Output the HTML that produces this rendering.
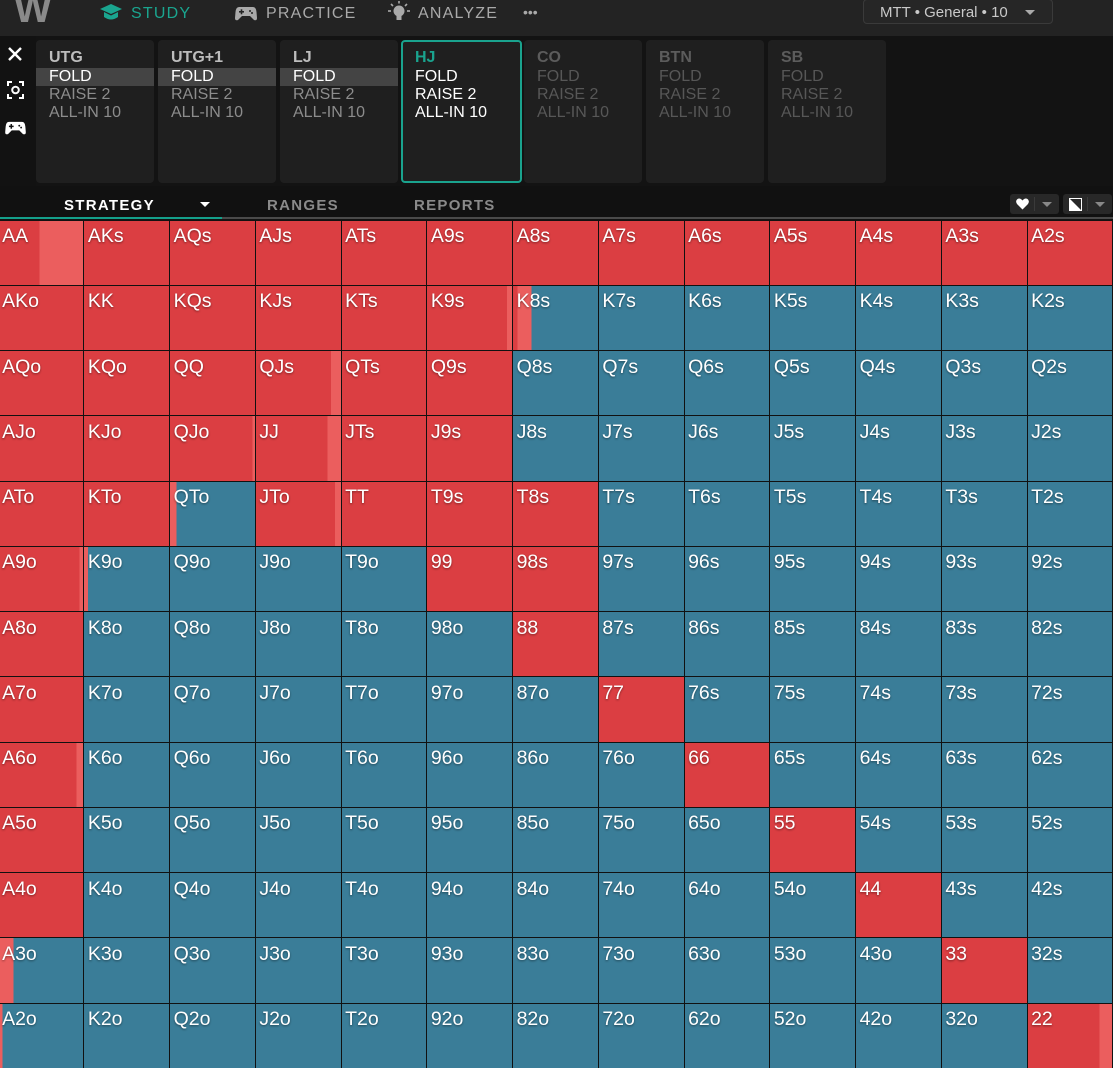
<!DOCTYPE html>
<html><head><meta charset="utf-8"><style>
*{margin:0;padding:0;box-sizing:border-box}
html,body{width:1113px;height:1063px;overflow:hidden;background:#131313;font-family:"Liberation Sans",Arial,sans-serif}
.hdr{position:absolute;left:0;top:0;width:1113px;height:36px;background:#232323}
.logo{position:absolute;left:14px;top:-13px;font-size:40px;font-weight:bold;color:#8a8a8a;letter-spacing:-4px}
.nav{position:absolute;top:5px;font-size:16px;letter-spacing:1.2px;color:#a9a9a9;line-height:18px}
.dd{position:absolute;left:863px;top:-1px;width:190px;height:25px;border:1px solid #3a3a3a;border-radius:4px;background:#262626;color:#c9c9c9;font-size:15px;line-height:25px;padding-left:16px}
.side{position:absolute;left:0;top:36px;width:36px;height:150px;background:#121212}
.card{position:absolute;top:40px;width:118px;height:143px;background:#1f1f1f;border-radius:4px;padding-top:9px;font-size:16px;line-height:18px}
.card div{padding-left:13px;height:18px;white-space:nowrap}
.card .t{font-weight:bold;color:#bdbdbd;margin-bottom:1px}
.card .f{background:#444;color:#fff}
.card .o{color:#8c8c8c}
.card.hj{border:2px solid #1aa38e;padding-top:7px}
.card.hj div{padding-left:12px;color:#fff}
.card.hj .t{color:#1aa38e}
.card.dim div{color:#575757}
.card.dim .t{color:#5c5c5c}
.tabs{position:absolute;left:0;top:186px;width:1113px;height:31px;background:#111}
.tab{position:absolute;top:12px;font-size:15px;font-weight:bold;letter-spacing:1.3px;color:#8a8a8a;line-height:16px}
.ul1{position:absolute;left:0;top:217px;width:222px;height:2px;background:#14a08b}
.ul2{position:absolute;left:222px;top:217px;width:891px;height:2px;background:#4a4a4a}
.btn{position:absolute;top:194px;height:20px;width:49px;background:#282828;border-radius:3px}
.grid{position:absolute;left:-2.45px;top:219.5px;display:grid;grid-template-columns:repeat(13,85.75px);grid-template-rows:repeat(13,65.25px);background:#111}
.grid div{border-left:1px solid #111;border-top:1px solid #111;color:#fff;font-size:19.5px;line-height:19.5px;padding:6.5px 0 0 3.5px;text-shadow:0 1px 2px rgba(0,0,0,.45);background:#3a7d98;overflow:hidden;white-space:nowrap}
.grid div.r{background:#db3e42}
</style></head><body>
<div class="hdr">
  <div class="logo">W</div>
  <svg style="position:absolute;left:99px;top:3px" width="24" height="19" viewBox="0 0 24 19"><polygon points="12,1 23,6 12,11 1,6" fill="#1aa58f"/><path d="M5 9 L5 14 Q12 19 19 14 L19 9 L12 12.5 Z" fill="#1aa58f"/></svg>
  <div class="nav" style="left:131px;color:#1aa58f">STUDY</div>
  <svg style="position:absolute;left:235px;top:5px" width="22" height="16" viewBox="0 0 22 16"><path d="M4 2 H18 Q21 2 21.5 7 L22 13 Q22 16 19 15 L15 11 H7 L3 15 Q0 16 0 13 L0.5 7 Q1 2 4 2Z" fill="#a9a9a9"/><rect x="4" y="6" width="5" height="1.6" fill="#232323"/><rect x="5.7" y="4.3" width="1.6" height="5" fill="#232323"/><circle cx="15" cy="6" r="1" fill="#232323"/><circle cx="17" cy="8" r="1" fill="#232323"/></svg>
  <div class="nav" style="left:266px">PRACTICE</div>
  <svg style="position:absolute;left:387px;top:1px" width="24" height="22" viewBox="0 0 24 22"><circle cx="12" cy="10" r="5.5" fill="#a9a9a9"/><rect x="9.5" y="15" width="5" height="4" fill="#a9a9a9"/><g stroke="#a9a9a9" stroke-width="1.6"><line x1="12" y1="0" x2="12" y2="2.5"/><line x1="1" y1="10" x2="4" y2="10"/><line x1="20" y1="10" x2="23" y2="10"/><line x1="4" y1="3" x2="6" y2="5"/><line x1="20" y1="3" x2="18" y2="5"/></g></svg>
  <div class="nav" style="left:418px">ANALYZE</div>
  <div class="nav" style="left:523px;letter-spacing:0;font-size:14px;top:3px">•••</div>
  <div class="dd">MTT • General • 10<span style="position:absolute;left:161px;top:10px;width:0;height:0;border-left:5px solid transparent;border-right:5px solid transparent;border-top:5px solid #aaa"></span></div>
</div>
<div class="side">
  <svg style="position:absolute;left:8px;top:11px" width="14" height="14" viewBox="0 0 14 14"><path d="M1 1 L13 13 M13 1 L1 13" stroke="#fff" stroke-width="2.4"/></svg>
  <svg style="position:absolute;left:7px;top:45px" width="17" height="18" viewBox="0 0 17 18"><path d="M1 5 V1 H5 M12 1 H16 V5 M16 13 V17 H12 M5 17 H1 V13" stroke="#fff" stroke-width="2" fill="none"/><circle cx="8.5" cy="9" r="3.3" stroke="#fff" stroke-width="2" fill="none"/></svg>
  <svg style="position:absolute;left:5px;top:84px" width="21" height="15" viewBox="0 0 22 16"><path d="M4 2 H18 Q21 2 21.5 7 L22 13 Q22 16 19 15 L15 11 H7 L3 15 Q0 16 0 13 L0.5 7 Q1 2 4 2Z" fill="#fff"/><rect x="4" y="6" width="5" height="1.6" fill="#121212"/><rect x="5.7" y="4.3" width="1.6" height="5" fill="#121212"/><circle cx="15" cy="6" r="1" fill="#121212"/><circle cx="17" cy="8" r="1" fill="#121212"/></svg>
</div>
<div class="card" style="left:36px"><div class="t">UTG</div><div class="f">FOLD</div><div class="o">RAISE 2</div><div class="o">ALL-IN 10</div></div>
<div class="card" style="left:158px"><div class="t">UTG+1</div><div class="f">FOLD</div><div class="o">RAISE 2</div><div class="o">ALL-IN 10</div></div>
<div class="card" style="left:280px"><div class="t">LJ</div><div class="f">FOLD</div><div class="o">RAISE 2</div><div class="o">ALL-IN 10</div></div>
<div class="card hj" style="left:401px;width:121px"><div class="t">HJ</div><div>FOLD</div><div>RAISE 2</div><div>ALL-IN 10</div></div>
<div class="card dim" style="left:524px"><div class="t">CO</div><div>FOLD</div><div>RAISE 2</div><div>ALL-IN 10</div></div>
<div class="card dim" style="left:646px"><div class="t">BTN</div><div>FOLD</div><div>RAISE 2</div><div>ALL-IN 10</div></div>
<div class="card dim" style="left:768px"><div class="t">SB</div><div>FOLD</div><div>RAISE 2</div><div>ALL-IN 10</div></div>
<div class="tabs">
  <div class="tab" style="left:64px;color:#fff">STRATEGY</div>
  <div style="position:absolute;left:200px;top:16px;width:0;height:0;border-left:5px solid transparent;border-right:5px solid transparent;border-top:5px solid #fff"></div>
  <div class="tab" style="left:267px">RANGES</div>
  <div class="tab" style="left:414px">REPORTS</div>
</div>
<div class="btn" style="left:1010px">
  <svg style="position:absolute;left:6px;top:4px" width="13" height="12" viewBox="0 0 13 12"><path d="M6.5 11.5 L1 6 Q-1 3 1.5 1 Q4 -0.5 6.5 2.5 Q9 -0.5 11.5 1 Q14 3 12 6 Z" fill="#fff"/></svg>
  <div style="position:absolute;left:24px;top:3px;width:1px;height:14px;background:#3a3a3a"></div>
  <div style="position:absolute;left:32px;top:8px;border-left:5px solid transparent;border-right:5px solid transparent;border-top:5px solid #888"></div>
</div>
<div class="btn" style="left:1063px">
  <svg style="position:absolute;left:6px;top:4px" width="13" height="13" viewBox="0 0 13 13"><rect x="0.5" y="0.5" width="12" height="12" fill="none" stroke="#fff"/><polygon points="0.5,0.5 12.5,12.5 0.5,12.5" fill="#fff"/></svg>
  <div style="position:absolute;left:24px;top:3px;width:1px;height:14px;background:#3a3a3a"></div>
  <div style="position:absolute;left:32px;top:8px;border-left:5px solid transparent;border-right:5px solid transparent;border-top:5px solid #888"></div>
</div>
<div class="ul1"></div><div class="ul2"></div>
<div class="grid">
<div style="background:linear-gradient(90deg,#db3e42 0 48%,#eb5e5e 48% 100%)">AA</div><div class="r">AKs</div><div class="r">AQs</div><div class="r">AJs</div><div class="r">ATs</div><div class="r">A9s</div><div class="r">A8s</div><div class="r">A7s</div><div class="r">A6s</div><div class="r">A5s</div><div class="r">A4s</div><div class="r">A3s</div><div class="r">A2s</div>
<div class="r">AKo</div><div class="r">KK</div><div class="r">KQs</div><div class="r">KJs</div><div class="r">KTs</div><div style="background:linear-gradient(90deg,#db3e42 0 94%,#eb5e5e 94% 100%)">K9s</div><div style="background:linear-gradient(90deg,#db3e42 0 5.5%,#eb5e5e 5.5% 21.5%,#3a7d98 21.5% 100%)">K8s</div><div>K7s</div><div>K6s</div><div>K5s</div><div>K4s</div><div>K3s</div><div>K2s</div>
<div class="r">AQo</div><div class="r">KQo</div><div class="r">QQ</div><div style="background:linear-gradient(90deg,#db3e42 0 88%,#eb5e5e 88% 100%)">QJs</div><div class="r">QTs</div><div class="r">Q9s</div><div>Q8s</div><div>Q7s</div><div>Q6s</div><div>Q5s</div><div>Q4s</div><div>Q3s</div><div>Q2s</div>
<div class="r">AJo</div><div class="r">KJo</div><div style="background:linear-gradient(90deg,#db3e42 0 97%,#eb5e5e 97% 100%)">QJo</div><div style="background:linear-gradient(90deg,#db3e42 0 84%,#eb5e5e 84% 100%)">JJ</div><div class="r">JTs</div><div class="r">J9s</div><div>J8s</div><div>J7s</div><div>J6s</div><div>J5s</div><div>J4s</div><div>J3s</div><div>J2s</div>
<div class="r">ATo</div><div class="r">KTo</div><div style="background:linear-gradient(90deg,#eb5e5e 0 7.5%,#3a7d98 7.5% 100%)">QTo</div><div style="background:linear-gradient(90deg,#db3e42 0 93%,#eb5e5e 93% 100%)">JTo</div><div class="r">TT</div><div class="r">T9s</div><div class="r">T8s</div><div>T7s</div><div>T6s</div><div>T5s</div><div>T4s</div><div>T3s</div><div>T2s</div>
<div style="background:linear-gradient(90deg,#db3e42 0 96%,#eb5e5e 96% 100%)">A9o</div><div style="background:linear-gradient(90deg,#eb5e5e 0 4.5%,#3a7d98 4.5% 100%)">K9o</div><div>Q9o</div><div>J9o</div><div>T9o</div><div class="r">99</div><div class="r">98s</div><div>97s</div><div>96s</div><div>95s</div><div>94s</div><div>93s</div><div>92s</div>
<div class="r">A8o</div><div>K8o</div><div>Q8o</div><div>J8o</div><div>T8o</div><div>98o</div><div class="r">88</div><div>87s</div><div>86s</div><div>85s</div><div>84s</div><div>83s</div><div>82s</div>
<div class="r">A7o</div><div>K7o</div><div>Q7o</div><div>J7o</div><div>T7o</div><div>97o</div><div>87o</div><div class="r">77</div><div>76s</div><div>75s</div><div>74s</div><div>73s</div><div>72s</div>
<div style="background:linear-gradient(90deg,#db3e42 0 92.5%,#eb5e5e 92.5% 100%)">A6o</div><div>K6o</div><div>Q6o</div><div>J6o</div><div>T6o</div><div>96o</div><div>86o</div><div>76o</div><div class="r">66</div><div>65s</div><div>64s</div><div>63s</div><div>62s</div>
<div class="r">A5o</div><div>K5o</div><div>Q5o</div><div>J5o</div><div>T5o</div><div>95o</div><div>85o</div><div>75o</div><div>65o</div><div class="r">55</div><div>54s</div><div>53s</div><div>52s</div>
<div class="r">A4o</div><div>K4o</div><div>Q4o</div><div>J4o</div><div>T4o</div><div>94o</div><div>84o</div><div>74o</div><div>64o</div><div>54o</div><div class="r">44</div><div>43s</div><div>42s</div>
<div style="background:linear-gradient(90deg,#eb5e5e 0 17%,#3a7d98 17% 100%)">A3o</div><div>K3o</div><div>Q3o</div><div>J3o</div><div>T3o</div><div>93o</div><div>83o</div><div>73o</div><div>63o</div><div>53o</div><div>43o</div><div class="r">33</div><div>32s</div>
<div style="background:linear-gradient(90deg,#eb5e5e 0 4%,#3a7d98 4% 100%)">A2o</div><div>K2o</div><div>Q2o</div><div>J2o</div><div>T2o</div><div>92o</div><div>82o</div><div>72o</div><div>62o</div><div>52o</div><div>42o</div><div>32o</div><div style="background:linear-gradient(90deg,#db3e42 0 85%,#eb5e5e 85% 100%)">22</div>
</div>
</body></html>
